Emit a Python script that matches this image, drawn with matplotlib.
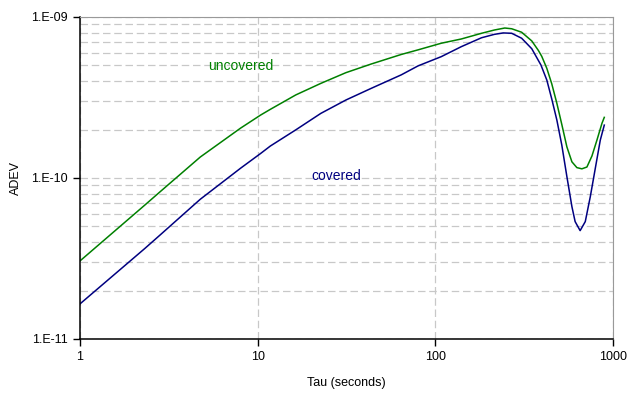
import numpy as np
import matplotlib.pyplot as plt
from matplotlib.ticker import FixedLocator, LogLocator, NullFormatter

plt.rcParams['font.family'] = ['Liberation Sans', 'DejaVu Sans']

# Allan deviation vs averaging time
tau_unc = [1, 2.32, 2.83, 4.76, 8.02, 10.4, 11.8, 16.4, 22.7, 31.4, 43.5, 64.3, 80,
           108, 140, 182, 215, 246, 269, 306, 349, 380, 397, 424, 452, 483,
           515, 550, 587, 626, 668, 713, 761, 812, 867, 893]
adev_unc = [3.05e-11, 6.79e-11, 8.22e-11, 1.35e-10, 2.04e-10, 2.46e-10, 2.67e-10,
            3.28e-10, 3.87e-10, 4.51e-10, 5.1e-10, 5.85e-10, 6.25e-10,
            6.87e-10, 7.3e-10, 7.92e-10, 8.3e-10, 8.54e-10, 8.45e-10, 8.04e-10,
            7.1e-10, 6.2e-10, 5.7e-10, 4.8e-10, 3.85e-10, 2.91e-10,
            2.15e-10, 1.56e-10, 1.26e-10, 1.16e-10, 1.14e-10, 1.17e-10,
            1.37e-10, 1.72e-10, 2.19e-10, 2.38e-10]

tau_cov = [1, 2.32, 2.83, 4.76, 8.02, 10.4, 11.8, 16.4, 22.7, 31.4, 43.5, 64.3, 80,
           108, 140, 182, 215, 241, 269, 306, 349, 393, 424, 452, 483, 515,
           550, 587, 612, 653, 698, 745, 795, 848, 893]
adev_cov = [1.65e-11, 3.65e-11, 4.43e-11, 7.38e-11, 1.15e-10, 1.42e-10, 1.58e-10,
            1.99e-10, 2.52e-10, 3.05e-10, 3.6e-10, 4.37e-10, 4.97e-10,
            5.67e-10, 6.54e-10, 7.43e-10, 7.8e-10, 7.96e-10, 7.92e-10, 7.38e-10,
            6.35e-10, 5.03e-10, 4.06e-10, 3.1e-10, 2.29e-10, 1.6e-10,
            1.02e-10, 6.64e-11, 5.36e-11, 4.71e-11, 5.36e-11, 7.66e-11,
            1.15e-10, 1.72e-10, 2.13e-10]

x_ticks = [1, 10, 100, 1000]
x_labels = ['1', '10', '100', '1000']
y_ticks = [1e-11, 1e-10, 1e-9]
y_labels = ['1.E-11', '1.E-10', '1.E-09']

fig = plt.figure(figsize=(6.29, 3.94), dpi=100)
ax = fig.add_axes([0.127, 0.1396, 0.8476, 0.8173])

ax.plot(tau_unc, adev_unc, color='#008000', lw=1.1, solid_joinstyle='round')
ax.plot(tau_cov, adev_cov, color='#000080', lw=1.1, solid_joinstyle='round')

ax.set_xscale('log')
ax.set_yscale('log')
ax.set_xlim(1, 1000)
ax.set_ylim(1e-11, 1e-9)

ax.xaxis.set_major_locator(FixedLocator(x_ticks))
ax.set_xticklabels(x_labels)
ax.xaxis.set_minor_locator(FixedLocator([]))
ax.yaxis.set_major_locator(FixedLocator(y_ticks))
ax.set_yticklabels(y_labels)
ax.yaxis.set_minor_locator(LogLocator(base=10, subs=np.arange(2, 10)))
ax.yaxis.set_minor_formatter(NullFormatter())

ax.tick_params(which='major', direction='out', length=5, width=1, labelsize=9, color='black')
ax.tick_params(which='minor', length=0)
ax.tick_params(axis='x', pad=4)

grid_kw = dict(color='#c8c8c8', lw=0.9, dashes=(6, 3))
ax.grid(True, which='both', axis='y', **grid_kw)
ax.grid(True, which='major', axis='x', **grid_kw)
ax.set_axisbelow(True)

for side in ['top', 'right']:
    ax.spines[side].set_color('#999999')
for side in ['left', 'bottom']:
    ax.spines[side].set_color('black')
    ax.spines[side].set_linewidth(1.1)

ax.set_xlabel('Tau (seconds)', fontsize=9, labelpad=10)
ax.set_ylabel('ADEV', fontsize=9, labelpad=7)

ax.text(8.0, 4.97e-10, 'uncovered', color='#008000', fontsize=10, ha='center', va='center')
ax.text(27.6, 1.03e-10, 'covered', color='#000080', fontsize=10, ha='center', va='center')

fig.savefig('out.png', dpi=100)
